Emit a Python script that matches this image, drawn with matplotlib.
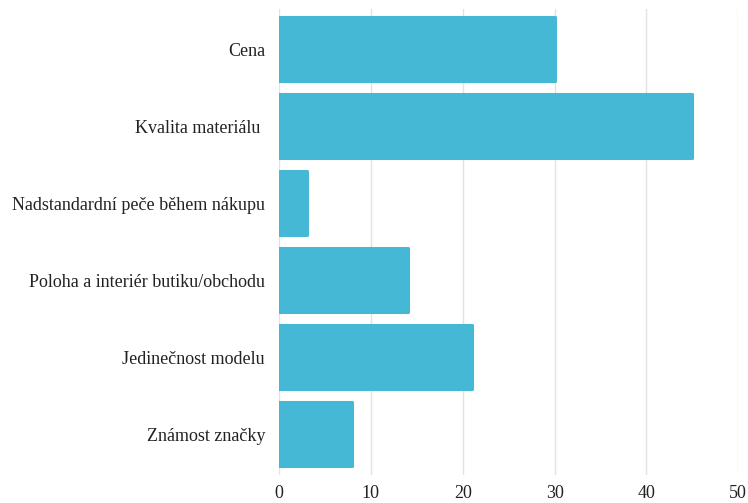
import matplotlib
matplotlib.use("Agg")
import matplotlib.pyplot as plt

categories = ["Cena", "Kvalita materiálu ", "Nadstandardní peče během nákupu",
              "Poloha a interiér butiku/obchodu", "Jedinečnost modelu", "Známost značky"]
values = [30, 45, 3, 14, 21, 8]
xticks = [0, 10, 20, 30, 40, 50]

color = "#45B8D6"
plt.rcParams['font.family'] = ['Liberation Serif', 'DejaVu Serif']

fig = plt.figure(figsize=(7.48, 5.03), dpi=100)
ax = fig.add_axes([0.373, 0.056, 0.614, 0.927])

ypos = list(range(len(categories)))
bars = ax.barh(ypos, values, height=0.83, color=color, edgecolor=color,
               linewidth=2.2, joinstyle="round", zorder=3)
ax.set_xlim(0, 50)
ax.set_ylim(len(categories) - 0.5 + 0.03, -0.5 - 0.03)

ax.set_yticks(ypos)
ax.set_yticklabels(categories, fontsize=13, color="#222222")
ax.set_xticks(xticks)
ax.set_xticklabels([str(t) for t in xticks], fontsize=13, color="#222222")
ax.tick_params(axis="both", length=0)
ax.tick_params(axis="y", pad=10)
ax.tick_params(axis="x", pad=7)
ax.xaxis.grid(True, color="#e2e2e2", linewidth=1)
ax.set_axisbelow(True)
for s in ax.spines.values():
    s.set_visible(False)

fig.savefig("out.png", dpi=100)
